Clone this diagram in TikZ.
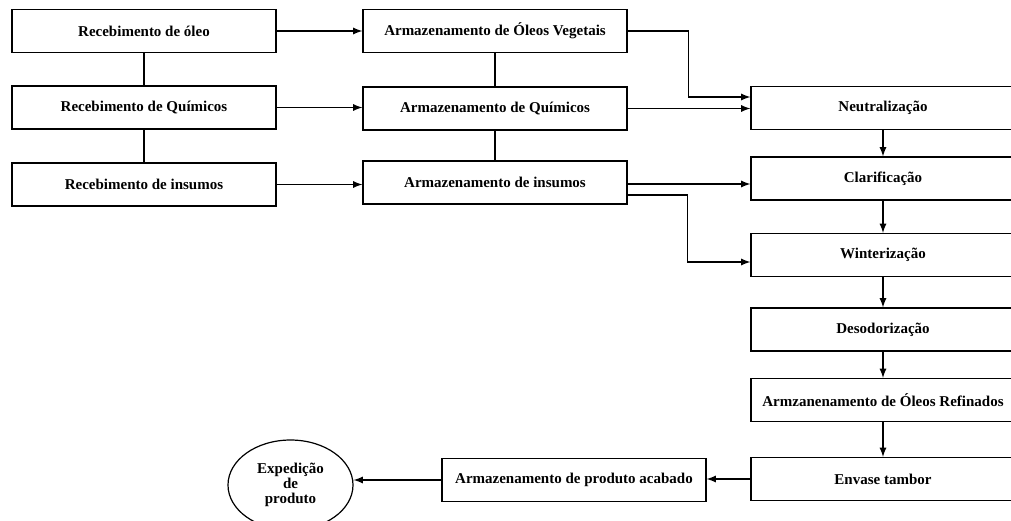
\documentclass[tikz,border=0pt]{standalone}
\usepackage{fontspec}
\setmainfont{Liberation Serif}
\usetikzlibrary{arrows, shapes.geometric}

\begin{document}
\begin{tikzpicture}[x=0.5pt, y=-0.5pt]
    \tikzstyle{box}=[draw,text=black,fill=white,line width=0.6pt,minimum width=132pt,minimum height=21.5pt,inner sep=0pt,font=\bfseries\fontsize{7.5}{9}\selectfont]
    \tikzstyle{endnode}=[draw,text=black,ellipse,line width=0.6pt,minimum width=62.5pt,minimum height=45pt,inner sep=0pt,align=center,font=\bfseries\fontsize{7.5}{7.5}\selectfont]
    \tikzstyle{edge} = [draw,line width=0.6pt,-latex]
    \tikzstyle{edge2} = [draw,line width=0.6pt,-]

    \useasboundingbox (0,0) rectangle (1011,520);
    \clip (0,0) rectangle (1011,520);

    \node[box] (recOleo) at (144, 31) {Recebimento de óleo};
    \node[box] (recQuim) at (144, 107.5) {Recebimento de Químicos};
    \node[box] (recIns) at (144, 184.5) {Recebimento de insumos};

    \node[box] (armOleo) at (495, 31) {Armazenamento de Óleos Vegetais};
    \node[box] (armQuim) at (495, 108.5) {Armazenamento de Químicos};
    \node[box] (armIns) at (495, 182.5) {Armazenamento de insumos};

    \node[box] (neut) at (883, 108) {Neutralização};
    \node[box] (clar) at (883, 178.5) {Clarificação};
    \node[box] (wint) at (883, 255) {Winterização};
    \node[box] (deso) at (883, 329.5) {Desodorização};
    \node[box] (armRef) at (883, 400) {Armzanenamento de Óleos Refinados};
    \node[box] (envase) at (883, 479) {Envase tambor};

    \node[box] (armProd) at (574, 480) {Armazenamento de produto acabado};
    \node[endnode] (exped) at (290.5, 485) {Expedição\\de\\produto};

    \path[edge2] (recOleo) -- (recQuim);
    \path[edge2] (recQuim) -- (recIns);
    \path[edge2] (armOleo) -- (armQuim);
    \path[edge2] (armQuim) -- (armIns);

    \path[edge] (recOleo.east) -- (recOleo.east -| armOleo.west);
    \path[edge] (recQuim.east) -- (recQuim.east -| armQuim.west);
    \path[edge] (recIns.east) -- (recIns.east -| armIns.west);

    \path[edge] (armOleo.east) -- ++(61,0) |- ([yshift=5.5pt]neut.west);
    \path[edge] (armQuim.east) -- (armQuim.east -| neut.west);
    \path[edge] ([yshift=-0.75pt]armIns.east) -- ([yshift=-0.75pt]armIns.east -| clar.west);
    \path[edge] ([yshift=-6.25pt]armIns.east) -- ++(60,0) |- ([yshift=-3.5pt]wint.west);

    \path[edge] (neut) -- (clar);
    \path[edge] (clar) -- (wint);
    \path[edge] (wint) -- (deso);
    \path[edge] (deso) -- (armRef);
    \path[edge] (armRef) -- (envase);
    \path[edge] (envase.west) -- (envase.west -| armProd.east);
    \path[edge] (armProd.west) -- (armProd.west -| exped.east);
\end{tikzpicture}
\end{document}
